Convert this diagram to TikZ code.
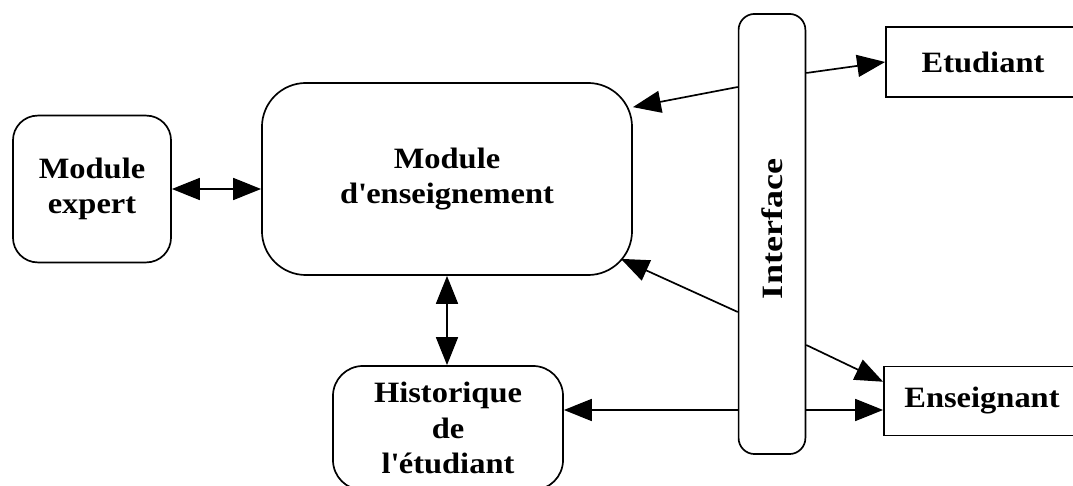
\documentclass[tikz,border=0pt]{standalone}
\usepackage{fontspec}
\setmainfont[FakeStretch=1.1]{Liberation Serif}
\newfontfamily\ifacefont[FakeStretch=1.22]{Liberation Serif}
\usetikzlibrary{calc,arrows.meta,positioning}

\begin{document}
\begin{tikzpicture}[x=0.025cm,y=0.025cm,
        font=\fontsize{21}{25}\selectfont\bfseries,
        rbox/.style={draw,line width=1.2pt,rounded corners=#1,align=center,inner sep=0pt},
        sbox/.style={draw,line width=1.2pt,align=center,inner sep=0pt},
        link/.style={line width=1.2pt,-{Triangle[length=0.7cm,width=0.55cm]}},
        dlink/.style={line width=1.2pt,{Triangle[length=0.7cm,width=0.55cm]}-{Triangle[length=0.7cm,width=0.55cm]}}]
        \useasboundingbox (0,0) rectangle (1073,486);
        \clip (0,0) rectangle (1073,486);
        % boxes
        \node[rbox=0.62cm,minimum width=3.95cm,minimum height=3.67cm] (mexp) at (92,297) {Module\\expert};
        \node[rbox=1.1cm,minimum width=9.25cm,minimum height=4.8cm] (mens) at (447,307) {Module\\d\textquotesingle enseignement};
        \node[rbox=0.4cm,minimum width=1.67cm,minimum height=11cm] (iface) at (772,252) {};
        \node[rotate=90,font=\ifacefont\fontsize{21}{25}\selectfont\bfseries] (ilab) at (772,257) {Interface};
        \node[sbox,minimum width=4.85cm,minimum height=1.75cm] (etud) at (983,424) {Etudiant};
        \node[sbox,minimum width=4.9cm,minimum height=1.72cm] (ens) at (982,85) {Enseignant};
        \node[rbox=0.75cm,minimum width=5.75cm,minimum height=3.1cm] (hist) at (448,58) {Historique\\de\\l\textquotesingle étudiant};
        % points on the interface
        \coordinate (iwa) at ($(iface.west)+(0,147)$);
        \coordinate (iwb) at ($(iface.west)+(0,-78)$);
        \coordinate (iwc) at ($(iface.west)+(0,-176)$);
        \coordinate (iea) at ($(iface.east)+(0,161)$);
        \coordinate (ieb) at ($(iface.east)+(0,-111)$);
        % links
        \draw[dlink] (mexp.east) -- (mexp.east -| mens.west);
        \draw[dlink] (mens.south) -- (mens.south |- hist.north);
        \draw[link] (iwa) -- ($(mens.north east)+(0,-25)$);
        \draw[link] (iwb) -- ($(mens.south east)+(-12,17)$);
        \draw[link] (iwc) -- (iwc -| hist.east);
        \draw[link] (iea) -- (etud.west);
        \draw[link] (ieb) -- ($(ens.north west)+(0,-16)$);
        \draw[link] (iwc -| iface.east) -- (iwc -| ens.west);
\end{tikzpicture}
\end{document}
